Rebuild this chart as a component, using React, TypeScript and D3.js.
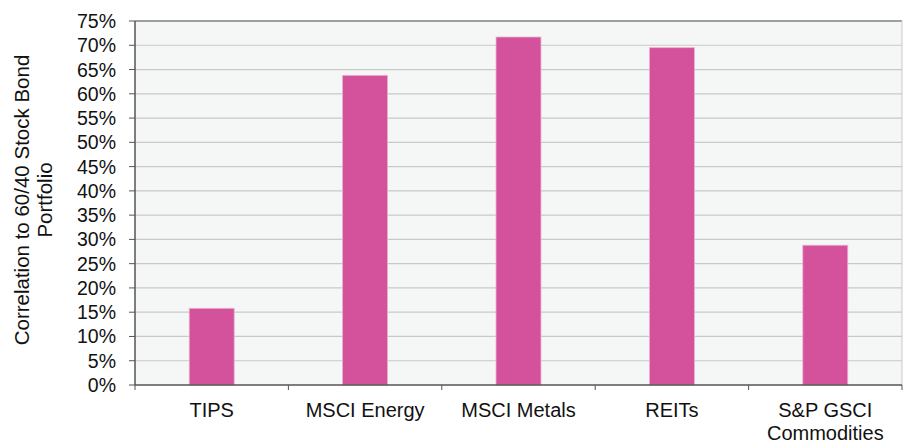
import React from "react";
import * as d3 from "d3";

const categories = ["TIPS", "MSCI Energy", "MSCI Metals", "REITs", "S&P GSCI Commodities"];
const labelLines = [["TIPS"], ["MSCI Energy"], ["MSCI Metals"], ["REITs"], ["S&P GSCI", "Commodities"]];
const values = [0.158, 0.638, 0.717, 0.695, 0.288];
const yTicks = d3.range(0, 0.7501, 0.05);

export default function App() {
  const W = 905, H = 442;
  const left = 135, right = 902, top = 21, bottom = 385;
  const x = d3.scaleBand<string>().domain(categories).range([left, right]).paddingInner(0).paddingOuter(0);
  const y = d3.scaleLinear().domain([0, 0.75]).range([bottom, top]);
  const bw = x.bandwidth() * 0.293;
  const fmt = d3.format(".0%");
  const font = "'Liberation Sans', Arial, sans-serif";
  return (
    <svg width={W} height={H} style={{ position: "absolute", left: 0, top: 0 }} fontFamily={font}>
      <rect x={left} y={top} width={right - left} height={bottom - top} fill="#f5f7f7" />
      {yTicks.map((t, i) => (
        <g key={i}>
          {i > 0 && <line x1={left} x2={right} y1={y(t)} y2={y(t)} stroke="#c9c9c9" strokeWidth={1.2} />}
          <line x1={left - 6} x2={left} y1={y(t)} y2={y(t)} stroke="#555" strokeWidth={1} />
          <text x={116} y={y(t)} dy="0.36em" textAnchor="end" fontSize={19.5} fill="#111">{fmt(t)}</text>
        </g>
      ))}
      <line x1={left} x2={right} y1={top} y2={top} stroke="#888" strokeWidth={1.5} />
      <line x1={right} x2={right} y1={top} y2={bottom} stroke="#c9c9c9" strokeWidth={1} />
      {categories.map((c, i) => (
        <rect key={c} x={x(c)! + x.bandwidth() / 2 - bw / 2} y={y(values[i])} width={bw} height={bottom - y(values[i])}
          fill="#d4519b" stroke="#eab0cf" strokeWidth={0.8} />
      ))}
      <line x1={left} x2={left} y1={top} y2={bottom} stroke="#555" strokeWidth={1.5} />
      <line x1={left} x2={right} y1={bottom} y2={bottom} stroke="#555" strokeWidth={1.5} />
      {categories.map((c, i) => (
        <line key={"t" + i} x1={x(c)!} x2={x(c)!} y1={bottom} y2={bottom + 5} stroke="#555" strokeWidth={1} />
      ))}
      <line x1={right} x2={right} y1={bottom} y2={bottom + 5} stroke="#555" strokeWidth={1} />
      {categories.map((c, i) => (
        <text key={"l" + i} x={x(c)! + x.bandwidth() / 2} y={416.5} textAnchor="middle" fontSize={20} fill="#111">
          {labelLines[i].map((ln, j) => (
            <tspan key={j} x={x(c)! + x.bandwidth() / 2} dy={j === 0 ? 0 : 23}>{ln}</tspan>
          ))}
        </text>
      ))}
      <text transform={`translate(29,200) rotate(-90)`} textAnchor="middle" fontSize={20.5} fill="#111">
        <tspan x={0} dy={0}>Correlation to 60/40 Stock Bond</tspan>
        <tspan x={0} dy={23}>Portfolio</tspan>
      </text>
    </svg>
  );
}
